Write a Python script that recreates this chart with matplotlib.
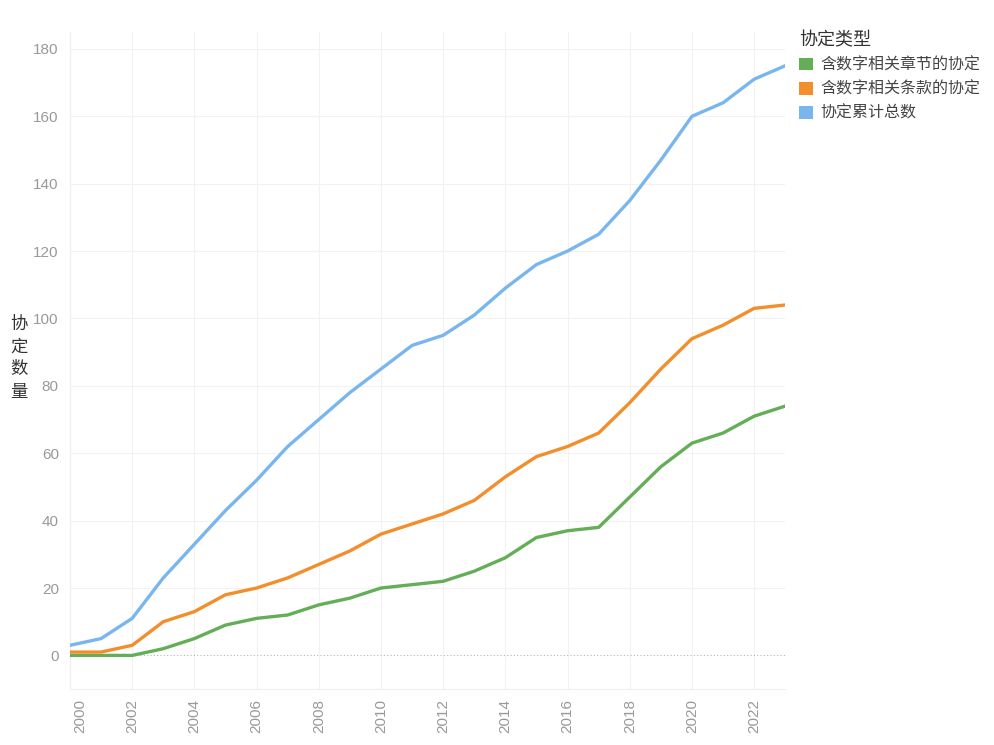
#!/usr/bin/env python3
"""Cumulative count of trade agreements with digital provisions, 2000-2023."""

import matplotlib
matplotlib.use("Agg")
import matplotlib.pyplot as plt
import matplotlib.transforms as mtransforms
from matplotlib.patches import Patch

years = list(range(2000, 2024))
chapter_counts = [0, 0, 0, 2, 5, 9, 11, 12, 15, 17, 20, 21, 22, 25, 29, 35, 37, 38, 47, 56, 63, 66, 71, 74]
clause_counts = [1, 1, 3, 10, 13, 18, 20, 23, 27, 31, 36, 39, 42, 46, 53, 59, 62, 66, 75, 85, 94, 98, 103, 104]
total_counts = [3, 5, 11, 23, 33, 43, 52, 62, 70, 78, 85, 92, 95, 101, 109, 116, 120, 125, 135, 147, 160, 164, 171, 175]
series_names = ["含数字相关章节的协定", "含数字相关条款的协定", "协定累计总数"]
legend_title = "协定类型"
y_label = "协定数量"

colors = ["#64ae58", "#f28e2b", "#79b6ee"]
plt.rcParams["font.family"] = ["Liberation Sans", "Noto Sans CJK SC", "DejaVu Sans"]

fig = plt.figure(figsize=(9.94, 7.45), dpi=100)
ax = fig.add_axes([0.0704, 0.075, 0.7196, 0.882])

ax.axhline(0, color="#b5b5b5", lw=0.8, ls=(0, (1, 2)), zorder=2)
for vals, c in zip([chapter_counts, clause_counts, total_counts], colors):
    ax.plot(years, vals, color=c, lw=2.4, solid_joinstyle="round", zorder=3)

ax.set_xlim(2000, 2023)
ax.set_ylim(-10, 185)
ax.set_yticks(range(0, 181, 20))
ax.set_xticks(range(2000, 2023, 2))
ax.tick_params(axis="both", length=0, colors="#999999", labelsize=11)
ax.tick_params(axis="x", labelrotation=90, pad=7)
ax.tick_params(axis="y", pad=8)
ax.grid(True, color="#f2f2f2", lw=0.8, zorder=0)
ax.get_ygridlines()[0].set_visible(False)
for side in ["top", "right"]:
    ax.spines[side].set_visible(False)
for side in ["left", "bottom"]:
    ax.spines[side].set_color("#eeeeee")
    ax.spines[side].set_linewidth(0.8)

# first year label sits just inside the axis edge
first = ax.get_xticklabels()[0]
first.set_transform(first.get_transform() + mtransforms.ScaledTranslation(0.1, 0, fig.dpi_scale_trans))

fig.text(0.019, 0.52, "\n".join(y_label), fontsize=12.5, color="#333333",
         ha="center", va="center", linespacing=1.33, family=["Noto Sans CJK SC"])

handles = [Patch(facecolor=c, edgecolor="none") for c in colors]
leg = fig.legend(handles, series_names, title=legend_title, loc="upper left",
                 bbox_to_anchor=(0.804, 0.958), frameon=False, alignment="left",
                 prop={"family": "Noto Sans CJK SC", "size": 11.5},
                 title_fontproperties={"family": "Noto Sans CJK SC", "size": 13},
                 handlelength=0.85, handleheight=0.85, handletextpad=0.5,
                 labelspacing=0.45, borderaxespad=0, borderpad=0)
for t in leg.get_texts():
    t.set_color("#444444")
leg.get_title().set_color("#333333")

fig.savefig("out.png", dpi=100)
